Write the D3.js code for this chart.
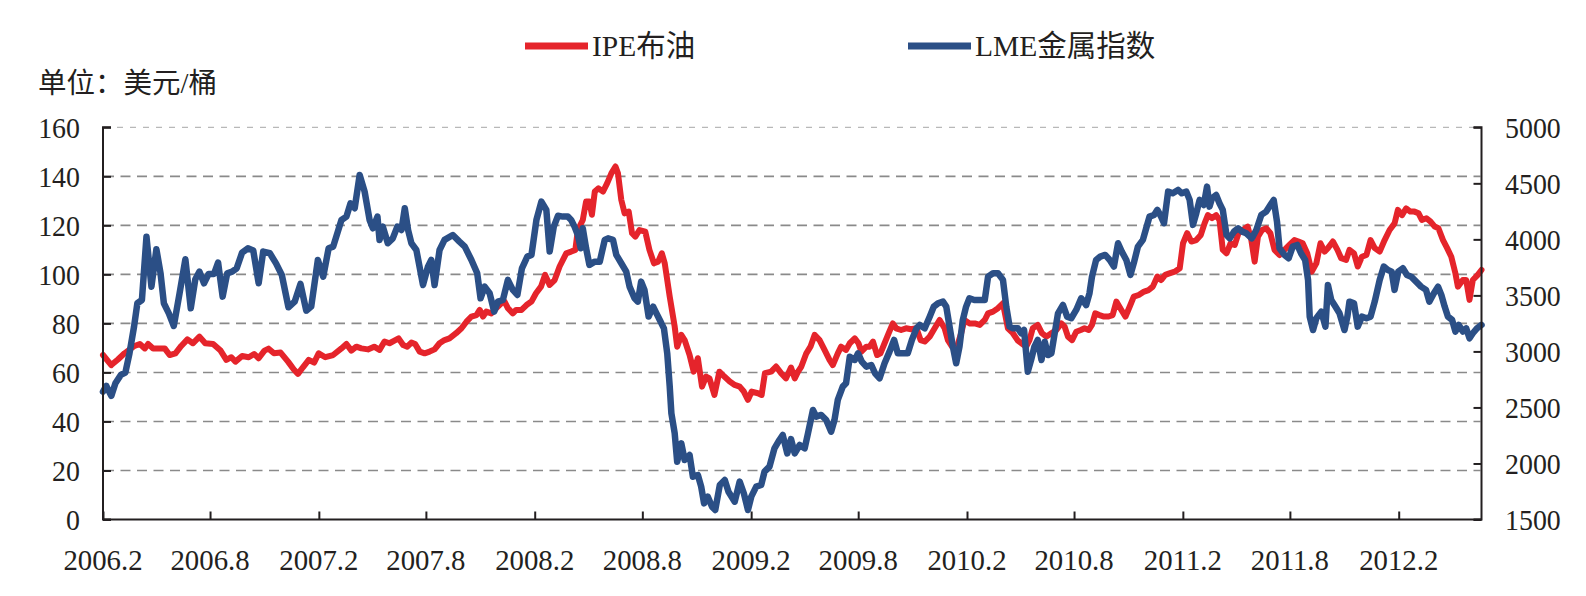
<!DOCTYPE html>
<html><head><meta charset="utf-8">
<script src="https://cdn.jsdelivr.net/npm/d3@7"></script>
<style>
html,body{margin:0;padding:0;background:#fff;}
svg{display:block;}
text{font-family:"Liberation Serif","Noto Sans CJK SC",serif;fill:#231f20;}
</style></head>
<body>
<svg id="chart" width="1586" height="596"></svg>
<script>
// ---- data (weeks since 2006-02-01) ----
const brentWeeks = [0,2.0,3.6,5.2,7.6,8.9,10.1,10.9,12.1,14.9,16.1,17.5,18.9,20.4,21.7,23.3,24.7,26.6,28.4,29.8,31.0,32.0,33.6,35.2,36.5,37.6,39.0,40.0,41.3,42.9,44.7,46.1,47.1,48.3,49.7,51.0,52.1,53.7,55.6,57.6,58.8,60.0,61.2,62.4,64.0,65.5,66.8,68.0,69.2,70.4,71.4,72.5,73.5,74.5,75.4,76.5,77.7,78.9,80.1,81.3,82.5,83.7,85.3,86.6,87.8,89.0,90.2,91.0,91.8,92.6,93.8,95.0,96.2,97.0,97.8,99.0,99.8,101.1,102.3,103.5,104.6,105.8,106.8,107.9,109.1,110.3,111.9,113.1,114.1,114.7,115.9,116.7,117.5,118.1,118.8,119.7,120.8,121.8,122.8,123.8,124.4,125.2,126.0,127.0,127.8,128.6,129.6,131.0,132.0,133.1,134.1,135.0,135.7,136.9,138.1,138.7,139.7,140.5,141.7,142.7,143.7,144.7,145.7,146.5,147.7,148.9,150.1,151.4,152.6,153.8,154.8,155.8,156.7,158.2,159.1,159.9,161.4,162.6,163.8,165.0,166.2,167.1,167.9,168.7,169.9,170.9,171.9,173.1,174.3,175.5,176.3,177.5,178.3,179.5,180.4,181.6,182.5,183.2,184.4,185.2,186.0,187.0,187.8,188.8,189.8,190.8,191.6,192.8,194.0,195.2,196.5,197.5,198.5,199.7,200.9,202.1,203.3,204.1,205.1,206.1,207.3,208.1,209.3,210.6,211.8,213.0,213.8,215.0,216.2,217.4,218.6,219.8,221.0,222.2,223.0,223.8,224.6,225.8,226.8,227.9,229.1,230.3,231.5,232.3,233.1,234.1,235.1,236.2,237.1,238.1,238.9,239.7,240.7,241.8,242.9,243.9,244.8,246.0,247.0,248.0,249.0,250.2,251.5,252.6,253.6,254.7,255.6,256.6,257.6,258.9,260.1,260.9,261.9,262.9,264.1,265.2,266.1,266.9,267.9,268.9,269.7,270.5,271.4,272.4,273.4,274.3,275.4,276.5,277.4,278.2,279.0,280.0,281.0,282.0,283.0,284.2,285.4,286.6,287.8,288.8,289.8,290.9,292.0,293.1,294.1,295.1,295.9,297.1,298.2,299.1,300.3,301.1,302.2,303.1,304.1,305.2,306.2,307.2,308.4,309.6,310.8,312.0,312.8,313.8,314.8,315.8,316.8,317.8,318.6,319.7,320.7,321.7,322.6,323.7,324.7,325.7,326.7,327.3,328.5,329.3,330.1,330.9,332.1,333.0];
const brentValues = [67.1,63.0,65.3,67.8,70.8,71.6,69.8,71.6,69.8,69.8,67.1,67.8,70.8,73.5,71.9,74.6,71.9,71.6,68.9,65.1,66.2,64.4,66.7,66.2,67.5,65.8,68.9,69.7,67.8,68.1,64.4,61.2,59.4,62.1,65.1,64.0,67.8,66.2,67.1,69.8,71.6,68.9,70.5,69.8,69.4,70.5,69.2,72.6,71.9,73.0,73.9,71.2,70.5,72.2,71.6,68.5,67.8,68.5,69.4,71.9,73.2,73.9,76.0,78.0,80.7,82.8,83.4,85.5,82.8,84.8,84.1,86.2,88.2,88.9,86.2,84.1,85.5,85.5,87.5,88.9,92.3,95.0,99.8,95.7,97.7,103.2,108.6,109.3,110.0,118.1,122.2,129.7,129.7,124.3,133.8,135.1,133.8,137.2,141.2,144.0,141.2,130.4,124.9,125.6,116.8,115.4,118.1,117.4,110.0,104.5,105.2,108.6,104.5,90.9,78.7,70.5,75.3,73.2,67.1,60.3,65.8,54.2,58.3,57.6,50.8,60.3,58.3,56.3,54.9,54.2,52.2,48.8,52.2,51.5,50.8,59.7,60.3,62.4,59.7,57.6,62.0,57.6,60.3,62.4,67.8,70.5,75.3,73.2,69.2,65.1,63.0,67.8,70.5,69.2,71.9,73.9,71.9,68.5,70.5,70.5,72.6,67.1,67.8,71.9,76.0,80.0,78.0,77.3,78.0,77.6,78.0,73.2,72.6,74.6,78.0,81.4,78.0,73.2,70.5,69.2,76.0,81.4,80.0,80.0,79.4,81.4,84.1,84.8,86.2,88.2,78.0,76.0,73.0,71.5,70.5,73.2,78.0,79.4,76.0,74.6,76.0,77.3,80.0,78.7,74.6,73.2,76.6,77.3,78.0,77.3,79.4,84.1,83.4,82.8,82.8,83.4,88.9,85.5,82.8,86.8,90.9,91.6,93.0,93.6,95.0,99.1,97.7,99.8,100.4,101.1,102.5,112.7,116.8,113.4,114.0,116.1,120.8,124.2,122.9,124.2,122.2,110.0,108.6,112.7,112.0,116.8,118.1,119.5,114.0,105.2,115.4,118.1,118.8,116.8,110.0,107.9,110.0,112.0,114.0,113.4,112.7,108.6,101.1,104.5,112.7,109.3,110.7,113.4,110.0,106.6,105.9,110.0,108.6,103.2,107.2,107.9,114.0,110.7,109.3,114.0,118.1,120.8,126.3,124.2,126.9,125.6,125.6,124.9,122.2,122.9,121.5,119.5,118.8,114.0,110.7,107.2,100.4,95.0,97.7,97.7,89.6,97.7,99.8,101.8];

const lmeWeeks = [0,0.8,2.0,3.0,4.3,5.4,6.4,7.5,8.3,9.4,10.5,11.7,12.9,13.9,14.7,15.9,17.1,18.5,19.9,21.2,22.3,23.3,24.4,25.5,26.8,27.8,28.9,30.0,31.2,32.3,33.6,35.0,36.3,37.6,38.7,40.3,41.8,43.2,44.8,46.3,47.7,49.1,50.3,51.9,53.2,54.5,55.6,57.6,58.8,59.8,60.8,62.0,63.2,64.4,65.2,66.3,66.8,67.6,68.8,70.0,71.1,72.1,72.9,73.7,74.5,75.7,77.3,78.5,79.3,80.1,81.3,82.5,84.5,86.1,87.4,89.0,90.4,91.2,92.2,93.4,94.5,95.4,96.6,97.8,99.0,100.1,101.2,102.5,103.5,104.7,105.9,107.1,107.9,108.9,109.9,111.1,112.3,113.1,113.9,114.7,115.4,115.9,116.7,117.5,118.8,120.0,121.2,122.0,123.2,124.0,125.2,126.4,127.2,128.4,129.2,130.0,130.8,131.8,132.9,133.7,134.5,135.5,136.3,136.9,137.3,138.1,138.7,139.7,140.5,141.7,142.5,143.7,144.5,145.2,146.1,147.1,147.9,149.0,150.2,151.1,152.6,153.8,154.8,155.8,156.6,157.8,159.0,159.8,161.0,162.2,163.4,164.2,165.3,166.2,167.1,168.3,169.5,170.3,171.5,172.3,173.5,174.7,175.9,176.7,177.5,178.7,179.5,180.4,181.6,182.4,183.3,184.4,185.6,186.5,187.6,188.8,190.0,191.1,192.0,193.2,194.4,195.4,196.5,197.3,198.5,199.7,200.7,201.7,202.9,203.7,204.5,205.3,206.1,206.9,207.7,208.5,209.3,210.5,211.8,213.0,213.8,215.0,216.2,217.4,218.2,219.0,219.8,221.0,221.8,222.5,223.4,224.2,225.0,225.8,226.7,227.5,228.3,229.1,229.9,230.7,231.9,232.9,233.9,235.1,236.3,237.5,238.3,238.9,239.9,240.9,242.1,243.2,244.2,245.2,246.1,247.2,248.2,249.0,250.0,251.2,252.0,252.8,253.9,254.7,255.6,256.3,257.3,258.4,259.7,260.6,261.7,262.5,263.3,264.1,264.9,265.9,266.7,267.3,267.9,268.9,269.7,270.5,271.4,272.2,273.2,274.2,275.2,276.2,277.5,278.6,279.8,281.0,282.0,282.8,283.6,284.2,285.4,286.4,287.4,288.5,289.4,290.4,291.1,291.5,292.3,293.1,294.3,295.3,295.9,296.7,297.7,298.7,299.9,300.6,301.1,302.2,303.1,304.1,305.2,306.2,307.2,308.4,309.4,310.4,311.3,312.0,312.9,314.0,315.0,316.0,317.2,318.4,319.6,320.4,321.5,322.5,323.3,324.1,324.9,325.9,326.7,327.5,328.5,329.3,330.1,330.9,331.9,333.0];
const lmeValues = [2641,2692,2603,2716,2790,2811,2983,3221,3430,3459,4024,3578,3912,3697,3430,3340,3227,3519,3822,3385,3644,3712,3608,3691,3691,3793,3489,3697,3712,3742,3882,3920,3900,3608,3891,3876,3786,3682,3394,3444,3602,3364,3400,3816,3667,3920,3935,4173,4203,4322,4278,4575,4426,4173,4099,4203,3995,4114,3965,4009,4114,4084,4278,4084,3965,3905,3593,3757,3816,3593,3905,3995,4039,3980,3935,3816,3697,3474,3578,3519,3355,3444,3459,3638,3549,3504,3742,3846,3861,4173,4337,4263,3891,4114,4210,4203,4203,4173,4114,4039,3921,4099,3921,3772,3801,3801,3995,4009,3995,3861,3787,3712,3578,3474,3444,3623,3549,3311,3400,3340,3281,3206,2983,2686,2448,2269,2016,2180,2031,2076,1882,1897,1793,1644,1704,1615,1585,1808,1853,1748,1659,1838,1734,1585,1704,1793,1808,1927,1972,2135,2210,2254,2090,2217,2090,2165,2135,2269,2477,2418,2433,2388,2284,2388,2567,2686,2716,2953,2924,2983,2909,2864,2879,2805,2760,2894,2998,3102,2983,2983,2983,3102,3206,3236,3206,3310,3400,3429,3444,3400,3221,3043,2894,3043,3281,3400,3474,3459,3459,3459,3667,3697,3697,3638,3400,3221,3206,3206,3162,3191,2819,2924,3043,3102,2924,3087,2968,2983,3162,3340,3414,3310,3296,3370,3474,3414,3519,3667,3816,3846,3861,3816,3757,3965,3891,3816,3682,3787,3935,3995,4099,4203,4218,4263,4203,4144,4426,4411,4441,4411,4426,4352,4129,4233,4352,4307,4471,4292,4366,4396,4322,4263,4039,4009,4069,4099,4069,4054,4009,4084,4218,4248,4307,4352,4158,3921,3861,3831,3935,3950,3876,3816,3638,3310,3191,3296,3355,3221,3593,3459,3400,3340,3191,3310,3444,3429,3221,3310,3296,3310,3444,3638,3757,3727,3712,3549,3712,3742,3682,3667,3623,3578,3549,3444,3519,3578,3504,3400,3310,3281,3177,3236,3177,3206,3117,3162,3206,3236];

const xTickLabels = ["2006.2","2006.8","2007.2","2007.8","2008.2","2008.8","2009.2","2009.8","2010.2","2010.8","2011.2","2011.8","2012.2"];
const leftTicks = [0,20,40,60,80,100,120,140,160];
const rightTicks = [1500,2000,2500,3000,3500,4000,4500,5000];
const seriesNames = ["IPE布油","LME金属指数"];
const unitLabel = "单位：美元/桶";
const totalWeeks = 333;

// ---- layout ----
const L = 103, R = 1481.5, T = 127.3, B = 519.5;
const red = "#e5242b", blue = "#2b4f86";
const start = new Date(2006, 1, 1);
const weekDate = w => new Date(start.getTime() + w * 7 * 86400000);
const parseTick = s => { const [y, m] = s.split("."); return new Date(+y, +m - 1, 1); };

const svg = d3.select("#chart");
const x = d3.scaleTime().domain([start, weekDate(totalWeeks)]).range([L, R]);
const yL = d3.scaleLinear().domain([0, 160]).range([B, T]);
const yR = d3.scaleLinear().domain([1500, 5000]).range([B, T]);

// grid lines
svg.append("g").selectAll("line").data(leftTicks.filter(d => d > 0)).join("line")
  .attr("x1", L + 1).attr("x2", R - 1)
  .attr("y1", d => yL(d)).attr("y2", d => yL(d))
  .attr("stroke", d => d === 160 ? "#b8b8b8" : "#8a8a8a")
  .attr("stroke-width", d => d === 160 ? 1.3 : 1.6)
  .attr("stroke-dasharray", d => d === 160 ? "6,7" : "10,6.5");

// lines
const brent = brentWeeks.map((w, i) => ({ d: weekDate(w), v: brentValues[i] }));
const lme = lmeWeeks.map((w, i) => ({ d: weekDate(w), v: lmeValues[i] }));
svg.append("path").datum(brent)
  .attr("d", d3.line().x(p => x(p.d)).y(p => yL(p.v)))
  .attr("fill", "none").attr("stroke", red).attr("stroke-width", 6)
  .attr("stroke-linejoin", "round").attr("stroke-linecap", "round");
svg.append("path").datum(lme)
  .attr("d", d3.line().x(p => x(p.d)).y(p => yR(p.v)))
  .attr("fill", "none").attr("stroke", blue).attr("stroke-width", 6.5)
  .attr("stroke-linejoin", "round").attr("stroke-linecap", "round");

// axes
const axisColor = "#231f20";
const gLeft = svg.append("g").attr("transform", `translate(${L},0)`)
  .call(d3.axisRight(yL).tickValues(leftTicks).tickSize(8).tickFormat(""));
const gRight = svg.append("g").attr("transform", `translate(${R},0)`)
  .call(d3.axisLeft(yR).tickValues(rightTicks).tickSize(8).tickFormat(""));
const gBottom = svg.append("g").attr("transform", `translate(0,${B})`)
  .call(d3.axisTop(x).tickValues(xTickLabels.map(parseTick)).tickSize(8).tickFormat(""));
[gLeft, gRight, gBottom].forEach(g => {
  g.select(".domain").attr("stroke", axisColor).attr("stroke-width", 2);
  g.selectAll(".tick line").attr("stroke", axisColor).attr("stroke-width", 2);
});
gLeft.select(".domain").attr("d", `M8,${T}H0V${B}H8`).attr("fill","none");
gRight.select(".domain").attr("d", `M-8,${T}H0V${B}H-8`).attr("fill","none");
gBottom.select(".domain").attr("d", `M${L},0H${R}`);

// tick labels (slightly condensed serif digits)
svg.append("g").selectAll("text").data(leftTicks).join("text")
  .attr("transform", d => `translate(80,${yL(d)}) scale(0.93,1)`).attr("dy", "0.34em")
  .attr("text-anchor", "end").attr("font-size", 30).text(d => d);
svg.append("g").selectAll("text").data(rightTicks).join("text")
  .attr("transform", d => `translate(1505,${yR(d)}) scale(0.93,1)`).attr("dy", "0.34em")
  .attr("text-anchor", "start").attr("font-size", 30).text(d => d);
svg.append("g").selectAll("text").data(xTickLabels).join("text")
  .attr("transform", d => `translate(${x(parseTick(d))},570) scale(0.96,1)`)
  .attr("text-anchor", "middle").attr("font-size", 30).text(d => d);

// unit label
svg.append("text").attr("x", 38).attr("y", 93).attr("font-size", 28.5).text(unitLabel);

// legend
const legend = [{ name: seriesNames[0], color: red, x1: 525, x2: 588, tx: 592 },
                { name: seriesNames[1], color: blue, x1: 908, x2: 971, tx: 975 }];
const lg = svg.append("g");
lg.selectAll("line").data(legend).join("line")
  .attr("x1", d => d.x1).attr("x2", d => d.x2).attr("y1", 46).attr("y2", 46)
  .attr("stroke", d => d.color).attr("stroke-width", 7);
lg.selectAll("text").data(legend).join("text")
  .attr("x", d => d.tx).attr("y", 56).attr("font-size", 29.5).text(d => d.name);
</script>
</body></html>
